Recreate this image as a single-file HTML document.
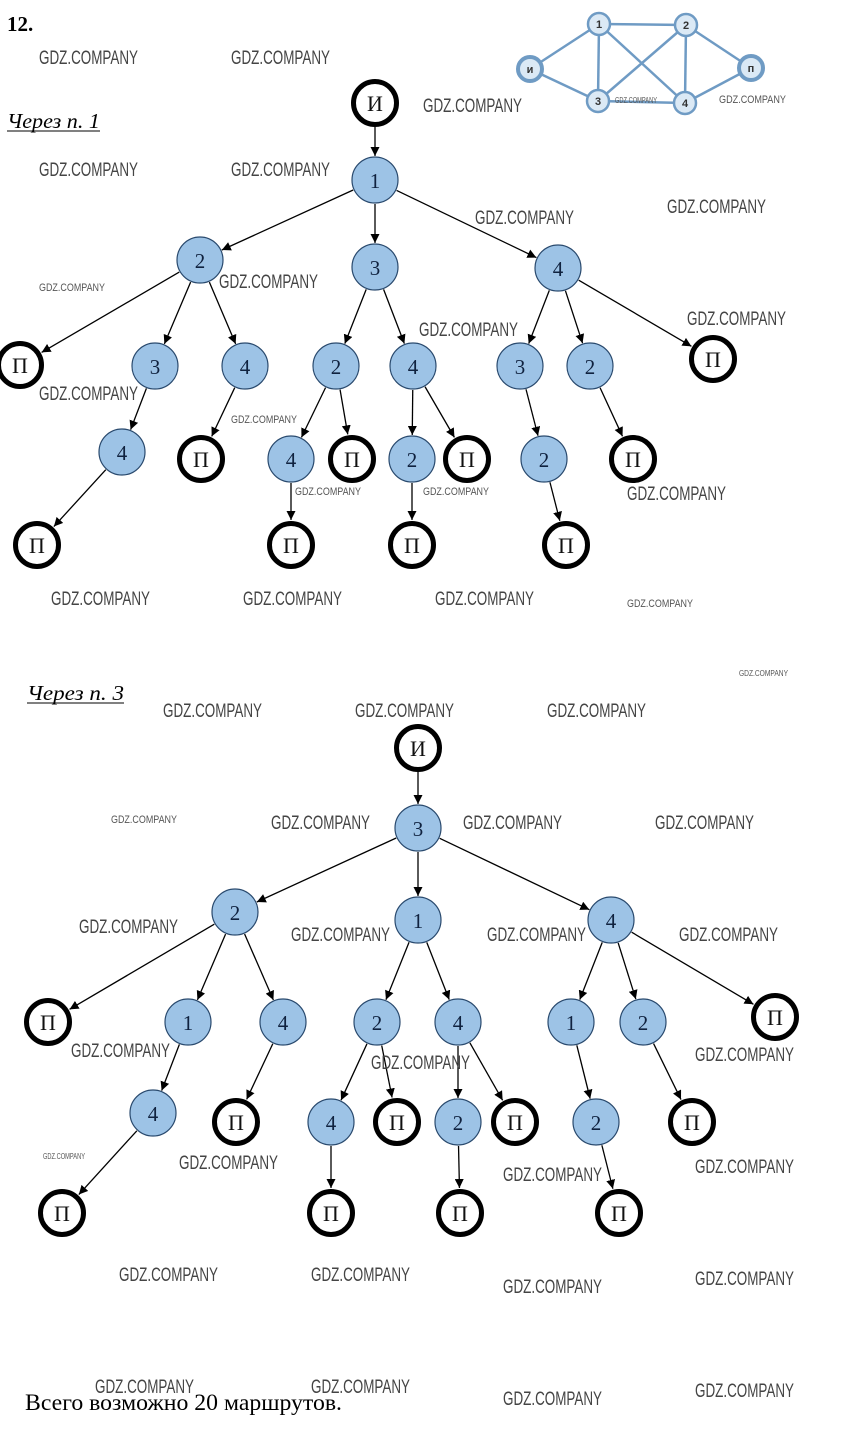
<!DOCTYPE html>
<html><head><meta charset="utf-8"><style>
html,body{margin:0;padding:0;background:#fff;}
svg{display:block;}
.n{font-family:"Liberation Serif",serif;font-size:21px;fill:#10223f;text-anchor:middle;}
.p{font-family:"Liberation Serif",serif;font-size:22px;fill:#111;text-anchor:middle;}
.w{font-family:"Liberation Sans",sans-serif;font-size:19px;fill:#444;}
.ws{font-family:"Liberation Sans",sans-serif;font-size:11px;fill:#555;}
.g{font-family:"Liberation Sans",sans-serif;font-size:11px;font-weight:bold;fill:#333;text-anchor:middle;}
</style></head><body>
<svg id="s" width="848" height="1456" viewBox="0 0 848 1456" xmlns="http://www.w3.org/2000/svg">
<defs><marker id="a" viewBox="0 0 10 10" refX="10" refY="5" markerWidth="9" markerHeight="9" markerUnits="userSpaceOnUse" orient="auto"><path d="M0,0L10,5L0,10z" fill="#000"/></marker></defs>
<g id="inset" stroke="#6f9bc4" stroke-width="2.5" fill="none">
<line x1="530" y1="69" x2="599" y2="24"/><line x1="530" y1="69" x2="598" y2="101"/>
<line x1="599" y1="24" x2="686" y2="25"/><line x1="599" y1="24" x2="598" y2="101"/>
<line x1="599" y1="24" x2="685" y2="103"/><line x1="686" y1="25" x2="598" y2="101"/>
<line x1="686" y1="25" x2="685" y2="103"/><line x1="686" y1="25" x2="751" y2="68"/>
<line x1="598" y1="101" x2="685" y2="103"/><line x1="685" y1="103" x2="751" y2="68"/>
<g fill="#dbe9f5"><circle cx="599" cy="24" r="11"/><circle cx="686" cy="25" r="11"/><circle cx="598" cy="101" r="11"/><circle cx="685" cy="103" r="11"/><circle cx="530" cy="69" r="12" stroke-width="4"/><circle cx="751" cy="68" r="12" stroke-width="4"/></g>
</g>
<text class="g" x="599" y="28">1</text><text class="g" x="686" y="29">2</text><text class="g" x="598" y="105">3</text><text class="g" x="685" y="107">4</text><text class="g" x="530" y="73">и</text><text class="g" x="751" y="72">п</text>
<g id="edges" stroke="#000" stroke-width="1.3"></g>
<g id="nodes"></g>
<text x="7" y="31" font-family="Liberation Serif,serif" font-size="21" font-weight="bold">12.</text>
<text x="7" y="128" font-family="Liberation Serif,serif" font-size="21" font-style="italic" textLength="93" lengthAdjust="spacingAndGlyphs">Через п. 1</text>
<line x1="7" y1="131" x2="100" y2="131" stroke="#000" stroke-width="1"/>
<text x="27" y="700" font-family="Liberation Serif,serif" font-size="21" font-style="italic" textLength="97" lengthAdjust="spacingAndGlyphs">Через п. 3</text>
<line x1="27" y1="703" x2="124" y2="703" stroke="#000" stroke-width="1"/>
<text x="25" y="1410" font-family="Liberation Serif,serif" font-size="23" textLength="317" lengthAdjust="spacingAndGlyphs">Всего возможно 20 маршрутов.</text>
<g class="w">
<text x="39" y="64" textLength="99" lengthAdjust="spacingAndGlyphs">GDZ.COMPANY</text>
<text x="231" y="64" textLength="99" lengthAdjust="spacingAndGlyphs">GDZ.COMPANY</text>
<text x="423" y="112" textLength="99" lengthAdjust="spacingAndGlyphs">GDZ.COMPANY</text>
<text x="39" y="176" textLength="99" lengthAdjust="spacingAndGlyphs">GDZ.COMPANY</text>
<text x="231" y="176" textLength="99" lengthAdjust="spacingAndGlyphs">GDZ.COMPANY</text>
<text x="475" y="224" textLength="99" lengthAdjust="spacingAndGlyphs">GDZ.COMPANY</text>
<text x="667" y="213" textLength="99" lengthAdjust="spacingAndGlyphs">GDZ.COMPANY</text>
<text x="219" y="288" textLength="99" lengthAdjust="spacingAndGlyphs">GDZ.COMPANY</text>
<text x="419" y="336" textLength="99" lengthAdjust="spacingAndGlyphs">GDZ.COMPANY</text>
<text x="687" y="325" textLength="99" lengthAdjust="spacingAndGlyphs">GDZ.COMPANY</text>
<text x="39" y="400" textLength="99" lengthAdjust="spacingAndGlyphs">GDZ.COMPANY</text>
<text x="627" y="500" textLength="99" lengthAdjust="spacingAndGlyphs">GDZ.COMPANY</text>
<text x="51" y="605" textLength="99" lengthAdjust="spacingAndGlyphs">GDZ.COMPANY</text>
<text x="243" y="605" textLength="99" lengthAdjust="spacingAndGlyphs">GDZ.COMPANY</text>
<text x="435" y="605" textLength="99" lengthAdjust="spacingAndGlyphs">GDZ.COMPANY</text>
<text x="163" y="717" textLength="99" lengthAdjust="spacingAndGlyphs">GDZ.COMPANY</text>
<text x="355" y="717" textLength="99" lengthAdjust="spacingAndGlyphs">GDZ.COMPANY</text>
<text x="547" y="717" textLength="99" lengthAdjust="spacingAndGlyphs">GDZ.COMPANY</text>
<text x="271" y="829" textLength="99" lengthAdjust="spacingAndGlyphs">GDZ.COMPANY</text>
<text x="463" y="829" textLength="99" lengthAdjust="spacingAndGlyphs">GDZ.COMPANY</text>
<text x="655" y="829" textLength="99" lengthAdjust="spacingAndGlyphs">GDZ.COMPANY</text>
<text x="79" y="933" textLength="99" lengthAdjust="spacingAndGlyphs">GDZ.COMPANY</text>
<text x="291" y="941" textLength="99" lengthAdjust="spacingAndGlyphs">GDZ.COMPANY</text>
<text x="487" y="941" textLength="99" lengthAdjust="spacingAndGlyphs">GDZ.COMPANY</text>
<text x="679" y="941" textLength="99" lengthAdjust="spacingAndGlyphs">GDZ.COMPANY</text>
<text x="71" y="1057" textLength="99" lengthAdjust="spacingAndGlyphs">GDZ.COMPANY</text>
<text x="371" y="1069" textLength="99" lengthAdjust="spacingAndGlyphs">GDZ.COMPANY</text>
<text x="695" y="1061" textLength="99" lengthAdjust="spacingAndGlyphs">GDZ.COMPANY</text>
<text x="179" y="1169" textLength="99" lengthAdjust="spacingAndGlyphs">GDZ.COMPANY</text>
<text x="503" y="1181" textLength="99" lengthAdjust="spacingAndGlyphs">GDZ.COMPANY</text>
<text x="695" y="1173" textLength="99" lengthAdjust="spacingAndGlyphs">GDZ.COMPANY</text>
<text x="119" y="1281" textLength="99" lengthAdjust="spacingAndGlyphs">GDZ.COMPANY</text>
<text x="311" y="1281" textLength="99" lengthAdjust="spacingAndGlyphs">GDZ.COMPANY</text>
<text x="503" y="1293" textLength="99" lengthAdjust="spacingAndGlyphs">GDZ.COMPANY</text>
<text x="695" y="1285" textLength="99" lengthAdjust="spacingAndGlyphs">GDZ.COMPANY</text>
<text x="95" y="1393" textLength="99" lengthAdjust="spacingAndGlyphs">GDZ.COMPANY</text>
<text x="311" y="1393" textLength="99" lengthAdjust="spacingAndGlyphs">GDZ.COMPANY</text>
<text x="503" y="1405" textLength="99" lengthAdjust="spacingAndGlyphs">GDZ.COMPANY</text>
<text x="695" y="1397" textLength="99" lengthAdjust="spacingAndGlyphs">GDZ.COMPANY</text>
</g>
<g class="ws">
<text x="719" y="103" textLength="67" lengthAdjust="spacingAndGlyphs">GDZ.COMPANY</text>
<text x="615" y="103" font-size="8" textLength="42" lengthAdjust="spacingAndGlyphs">GDZ.COMPANY</text>
<text x="39" y="291" textLength="66" lengthAdjust="spacingAndGlyphs">GDZ.COMPANY</text>
<text x="231" y="423" textLength="66" lengthAdjust="spacingAndGlyphs">GDZ.COMPANY</text>
<text x="295" y="495" textLength="66" lengthAdjust="spacingAndGlyphs">GDZ.COMPANY</text>
<text x="423" y="495" textLength="66" lengthAdjust="spacingAndGlyphs">GDZ.COMPANY</text>
<text x="627" y="607" textLength="66" lengthAdjust="spacingAndGlyphs">GDZ.COMPANY</text>
<text x="739" y="676" font-size="8" textLength="49" lengthAdjust="spacingAndGlyphs">GDZ.COMPANY</text>
<text x="111" y="823" textLength="66" lengthAdjust="spacingAndGlyphs">GDZ.COMPANY</text>
<text x="43" y="1159" font-size="8" textLength="42" lengthAdjust="spacingAndGlyphs">GDZ.COMPANY</text>
</g>
<g id="nt">
<text class="p" x="375" y="111">И</text>
<text class="n" x="375" y="188">1</text>
<text class="n" x="200" y="268">2</text><text class="n" x="375" y="275">3</text><text class="n" x="558" y="276">4</text>
<text class="p" x="20" y="373">П</text><text class="n" x="155" y="374">3</text><text class="n" x="245" y="374">4</text>
<text class="n" x="122" y="460">4</text><text class="p" x="201" y="467">П</text><text class="p" x="37" y="553">П</text>
<text class="n" x="336" y="374">2</text><text class="n" x="413" y="374">4</text>
<text class="n" x="291" y="467">4</text><text class="p" x="352" y="467">П</text><text class="p" x="291" y="553">П</text>
<text class="n" x="412" y="467">2</text><text class="p" x="467" y="467">П</text><text class="p" x="412" y="553">П</text>
<text class="n" x="520" y="374">3</text><text class="n" x="590" y="374">2</text><text class="p" x="713" y="367">П</text>
<text class="n" x="544" y="467">2</text><text class="p" x="566" y="553">П</text><text class="p" x="633" y="467">П</text>
<text class="p" x="418" y="756">И</text>
<text class="n" x="418" y="836">3</text>
<text class="n" x="235" y="920">2</text><text class="n" x="418" y="928">1</text><text class="n" x="611" y="928">4</text>
<text class="p" x="48" y="1030">П</text><text class="n" x="188" y="1030">1</text><text class="n" x="283" y="1030">4</text>
<text class="n" x="153" y="1121">4</text><text class="p" x="62" y="1221">П</text><text class="p" x="236" y="1130">П</text>
<text class="n" x="377" y="1030">2</text><text class="n" x="458" y="1030">4</text>
<text class="n" x="331" y="1130">4</text><text class="p" x="397" y="1130">П</text><text class="p" x="331" y="1221">П</text>
<text class="n" x="458" y="1130">2</text><text class="p" x="515" y="1130">П</text><text class="p" x="460" y="1221">П</text>
<text class="n" x="571" y="1030">1</text><text class="n" x="643" y="1030">2</text><text class="p" x="775" y="1025">П</text>
<text class="n" x="596" y="1130">2</text><text class="p" x="619" y="1221">П</text><text class="p" x="692" y="1130">П</text>
</g>
</svg>
<script>
var N={A0:[375,103,1],A1:[375,180],A2:[200,260],A3:[375,267],A4:[558,268],
B0:[20,365,1],B1:[155,366],B2:[245,366],B3:[122,452],B4:[201,459,1],B5:[37,545,1],
C1:[336,366],C2:[413,366],C3:[291,459],C4:[352,459,1],C5:[291,545,1],C6:[412,459],C7:[467,459,1],C8:[412,545,1],
D1:[520,366],D2:[590,366],D3:[713,359,1],D4:[544,459],D5:[566,545,1],D6:[633,459,1],
E0:[418,748,1],E1:[418,828],E2:[235,912],E3:[418,920],E4:[611,920],
F0:[48,1022,1],F1:[188,1022],F2:[283,1022],F3:[153,1113],F4:[62,1213,1],F5:[236,1122,1],
G1:[377,1022],G2:[458,1022],G3:[331,1122],G4:[397,1122,1],G5:[331,1213,1],G6:[458,1122],G7:[515,1122,1],G8:[460,1213,1],
H1:[571,1022],H2:[643,1022],H3:[775,1017,1],H4:[596,1122],H5:[619,1213,1],H6:[692,1122,1]};
var E=[["A0","A1"],["A1","A2"],["A1","A3"],["A1","A4"],["A2","B0"],["A2","B1"],["A2","B2"],["B1","B3"],["B2","B4"],["B3","B5"],
["A3","C1"],["A3","C2"],["C1","C3"],["C1","C4"],["C3","C5"],["C2","C6"],["C2","C7"],["C6","C8"],
["A4","D1"],["A4","D2"],["A4","D3"],["D1","D4"],["D4","D5"],["D2","D6"],
["E0","E1"],["E1","E2"],["E1","E3"],["E1","E4"],["E2","F0"],["E2","F1"],["E2","F2"],["F1","F3"],["F3","F4"],["F2","F5"],
["E3","G1"],["E3","G2"],["G1","G3"],["G1","G4"],["G3","G5"],["G2","G6"],["G2","G7"],["G6","G8"],
["E4","H1"],["E4","H2"],["E4","H3"],["H1","H4"],["H4","H5"],["H2","H6"]];
var ns="http://www.w3.org/2000/svg",eg=document.getElementById("edges"),ng=document.getElementById("nodes");
E.forEach(function(e){var a=N[e[0]],b=N[e[1]],dx=b[0]-a[0],dy=b[1]-a[1],d=Math.hypot(dx,dy),ra=24,rb=b[2]?25:24;
var l=document.createElementNS(ns,"line");l.setAttribute("x1",a[0]+dx/d*ra);l.setAttribute("y1",a[1]+dy/d*ra);
l.setAttribute("x2",b[0]-dx/d*rb);l.setAttribute("y2",b[1]-dy/d*rb);l.setAttribute("marker-end","url(#a)");eg.appendChild(l);});
for(var k in N){var n=N[k],c=document.createElementNS(ns,"circle");c.setAttribute("cx",n[0]);c.setAttribute("cy",n[1]);
if(n[2]){c.setAttribute("r",21.5);c.setAttribute("fill","#fff");c.setAttribute("stroke","#000");c.setAttribute("stroke-width","5");}
else{c.setAttribute("r",23);c.setAttribute("fill","#9dc3e6");c.setAttribute("stroke","#2a4a6e");c.setAttribute("stroke-width","1.2");}
ng.appendChild(c);}
</script>
</body></html>
